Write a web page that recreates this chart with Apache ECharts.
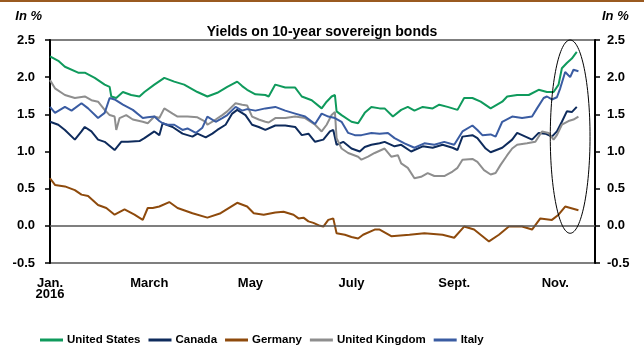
<!DOCTYPE html>
<html>
<head>
<meta charset="utf-8">
<script src="https://cdn.jsdelivr.net/npm/echarts@6/dist/echarts.min.js"></script>
<style>
  html, body { margin: 0; padding: 0; background: #fff; }
  #chart { width: 644px; height: 347px; }
</style>
</head>
<body>
<div id="chart"></div>
<script>
// x = day of year 2016 (0 = 1 Jan), y = yield in %
const monthDays = [0, 60, 121, 182, 244, 305];
const monthLabels = ['Jan.\n2016', 'March', 'May', 'July', 'Sept.', 'Nov.'];

const usYield = [[0,2.28],[5,2.22],[9,2.14],[17,2.06],[21,2.06],[27,1.99],[33,1.90],[36,1.87],[37,1.74],[40,1.72],[44,1.80],[49,1.76],[54,1.74],[57,1.80],[63,1.90],[69,1.99],[75,1.94],[81,1.90],[89,1.80],[95,1.74],[101,1.79],[107,1.87],[113,1.94],[116,1.88],[119,1.83],[124,1.77],[130,1.76],[132,1.74],[136,1.90],[142,1.86],[148,1.86],[152,1.74],[158,1.69],[164,1.58],[167,1.67],[170,1.74],[172,1.76],[173,1.54],[176,1.49],[182,1.40],[186,1.38],[190,1.52],[194,1.60],[199,1.58],[202,1.58],[207,1.47],[212,1.56],[216,1.60],[220,1.55],[225,1.60],[231,1.58],[235,1.63],[240,1.60],[246,1.56],[250,1.72],[255,1.72],[260,1.67],[266,1.58],[267,1.57],[273,1.67],[276,1.74],[282,1.76],[289,1.76],[295,1.83],[300,1.80],[304,1.80],[307,1.90],[309,2.12],[312,2.19],[315,2.25],[318,2.34]];

const canadaYield = [[0,1.40],[5,1.36],[9,1.29],[15,1.16],[19,1.27],[21,1.33],[25,1.27],[29,1.16],[33,1.13],[39,1.02],[43,1.13],[47,1.13],[54,1.14],[57,1.18],[63,1.27],[66,1.22],[68,1.38],[74,1.33],[80,1.24],[86,1.20],[89,1.24],[94,1.19],[98,1.24],[101,1.29],[106,1.36],[110,1.51],[113,1.56],[118,1.49],[122,1.36],[126,1.33],[130,1.29],[136,1.35],[142,1.35],[148,1.33],[152,1.22],[156,1.24],[160,1.13],[165,1.16],[169,1.27],[171,1.29],[173,1.09],[177,1.13],[182,1.04],[187,1.00],[190,1.06],[194,1.09],[199,1.11],[202,1.13],[208,1.07],[212,1.09],[218,1.00],[225,1.07],[231,1.05],[237,1.09],[243,1.05],[246,1.02],[249,1.20],[255,1.22],[258,1.18],[263,1.04],[266,0.99],[267,0.98],[273,1.05],[279,1.16],[282,1.25],[287,1.20],[291,1.16],[295,1.25],[299,1.24],[303,1.20],[306,1.27],[309,1.40],[312,1.54],[315,1.53],[318,1.60]];

const germanyYield = [[0,0.64],[3,0.55],[9,0.53],[15,0.48],[19,0.42],[23,0.40],[29,0.28],[34,0.24],[39,0.15],[45,0.22],[51,0.15],[56,0.08],[59,0.24],[62,0.24],[66,0.26],[72,0.32],[77,0.24],[86,0.17],[95,0.11],[103,0.17],[113,0.31],[119,0.26],[123,0.17],[129,0.15],[136,0.18],[141,0.19],[147,0.15],[150,0.10],[153,0.11],[156,0.06],[159,0.04],[163,0.00],[165,-0.01],[168,0.08],[171,0.10],[173,-0.10],[178,-0.12],[182,-0.15],[186,-0.17],[189,-0.12],[196,-0.05],[199,-0.05],[206,-0.14],[217,-0.12],[226,-0.10],[237,-0.12],[244,-0.16],[250,-0.01],[256,-0.05],[265,-0.21],[271,-0.12],[277,-0.01],[285,-0.01],[291,-0.05],[296,0.10],[303,0.08],[307,0.15],[311,0.26],[319,0.21]];

const ukYield = [[0,1.96],[3,1.85],[9,1.76],[15,1.72],[21,1.74],[25,1.69],[29,1.67],[33,1.56],[36,1.49],[39,1.47],[40,1.29],[42,1.45],[46,1.49],[50,1.43],[56,1.40],[59,1.38],[63,1.47],[66,1.45],[69,1.58],[74,1.51],[77,1.47],[83,1.47],[89,1.46],[94,1.40],[95,1.36],[100,1.43],[104,1.49],[107,1.54],[112,1.65],[116,1.63],[119,1.62],[122,1.47],[126,1.43],[130,1.40],[132,1.39],[136,1.45],[142,1.45],[148,1.47],[154,1.45],[160,1.36],[164,1.27],[167,1.36],[170,1.49],[172,1.53],[173,1.18],[176,1.04],[180,0.98],[186,0.93],[188,0.89],[192,0.93],[196,0.98],[202,1.04],[206,0.93],[210,0.95],[212,0.84],[216,0.78],[220,0.64],[224,0.66],[228,0.71],[232,0.67],[238,0.67],[243,0.73],[246,0.78],[249,0.89],[255,0.90],[258,0.86],[262,0.75],[266,0.69],[269,0.71],[272,0.82],[276,0.95],[279,1.04],[282,1.09],[288,1.11],[293,1.13],[297,1.27],[301,1.25],[304,1.16],[306,1.22],[309,1.36],[313,1.41],[316,1.43],[319,1.47]];

const italyYield = [[0,1.60],[3,1.52],[9,1.60],[13,1.55],[19,1.65],[23,1.58],[29,1.45],[33,1.52],[36,1.72],[39,1.70],[44,1.63],[50,1.56],[56,1.45],[59,1.46],[63,1.47],[66,1.41],[68,1.38],[71,1.36],[75,1.36],[80,1.29],[83,1.31],[88,1.25],[92,1.32],[95,1.47],[100,1.40],[104,1.45],[107,1.49],[112,1.60],[116,1.55],[119,1.57],[124,1.55],[130,1.58],[136,1.60],[142,1.55],[148,1.51],[154,1.47],[160,1.37],[164,1.51],[168,1.47],[172,1.45],[176,1.40],[180,1.25],[184,1.22],[188,1.22],[194,1.25],[199,1.24],[204,1.25],[208,1.18],[214,1.11],[220,1.05],[226,1.11],[232,1.09],[238,1.13],[244,1.09],[249,1.27],[255,1.35],[258,1.29],[261,1.22],[266,1.23],[269,1.20],[273,1.40],[279,1.47],[285,1.45],[291,1.47],[294,1.58],[298,1.72],[300,1.74],[303,1.70],[306,1.73],[308,1.85],[311,2.07],[314,2.00],[316,2.10],[319,2.08]];

// zone circled on the chart (days, %)
const circleDays = [302, 326];
const circleRange = [-0.1, 2.5];

const font = '"Liberation Sans", Arial, sans-serif';

const chart = echarts.init(document.getElementById('chart'), null, {renderer: 'canvas'});

function lineSeries(name, data, color) {
  return {
    name: name,
    type: 'line',
    data: data,
    showSymbol: false,
    symbol: 'none',
    smooth: false,
    lineStyle: {color: color, width: 2},
    itemStyle: {color: color}
  };
}

function yAxis(position, labelMargin, nameStyle) {
  return {
    type: 'value',
    position: position,
    min: -0.5,
    max: 2.5,
    interval: 0.5,
    splitLine: {show: false},
    axisLine: {show: true, lineStyle: {color: '#000', width: 2}},
    axisTick: {show: true, inside: false, length: 5, lineStyle: {color: '#000', width: 1.5}},
    axisLabel: {
      color: '#000', fontFamily: font, fontSize: 13, fontWeight: 'bold', margin: labelMargin,
      formatter: (v) => v.toFixed(1)
    },
    name: 'In %',
    nameLocation: 'end',
    nameGap: 17,
    nameTextStyle: Object.assign({fontFamily: font, fontSize: 13, fontWeight: 'bold', fontStyle: 'italic', color: '#000'}, nameStyle)
  };
}

const series = [
  lineSeries('United States', usYield, '#0f9a5c'),
  lineSeries('Canada', canadaYield, '#0e2b5c'),
  lineSeries('Germany', germanyYield, '#8e4a0c'),
  lineSeries('United Kingdom', ukYield, '#8e8e8e'),
  lineSeries('Italy', italyYield, '#3a5ca2')
];
// zero line
series[2].markLine = {
  silent: true,
  symbol: 'none',
  label: {show: false},
  lineStyle: {color: '#555', width: 1.5, type: 'solid'},
  data: [{yAxis: 0}]
};

chart.setOption({
  backgroundColor: '#fff',
  animation: false,
  title: {
    text: 'Yields on 10-year sovereign bonds',
    left: 'center',
    top: 20,
    textStyle: {fontFamily: font, fontSize: 14, fontWeight: 'bold', color: '#000'}
  },
  grid: {
    left: 50, right: 49, top: 40, bottom: 84,
    show: true, borderColor: '#555', borderWidth: 1.5, backgroundColor: 'transparent'
  },
  legend: {
    left: 40,
    top: 334,
    padding: 0,
    icon: 'rect',
    itemWidth: 23,
    itemHeight: 3,
    itemGap: 8,
    textStyle: {fontFamily: font, fontSize: 11.5, fontWeight: 'bold', color: '#000', padding: [0, 0, 0, -1]},
    data: ['United States', 'Canada', 'Germany', 'United Kingdom', 'Italy']
  },
  xAxis: {
    type: 'value',
    min: 0,
    max: 329,
    splitLine: {show: false},
    axisLine: {show: false},
    axisTick: {show: false},
    axisLabel: {
      customValues: monthDays,
      formatter: (v) => monthLabels[monthDays.indexOf(v)],
      color: '#000', fontFamily: font, fontSize: 13, fontWeight: 'bold',
      lineHeight: 11, margin: 15
    }
  },
  yAxis: [
    yAxis('left', 15, {align: 'right', padding: [0, 8, 0, 0]}),
    yAxis('right', 12, {align: 'left', padding: [0, 0, 0, 7]})
  ],
  series: series
});

// ellipse round the November jump
const p1 = chart.convertToPixel({xAxisIndex: 0, yAxisIndex: 0}, [circleDays[0], circleRange[1]]);
const p2 = chart.convertToPixel({xAxisIndex: 0, yAxisIndex: 0}, [circleDays[1], circleRange[0]]);
chart.setOption({
  graphic: [{
    type: 'ellipse',
    silent: true,
    z: 100,
    shape: {
      cx: (p1[0] + p2[0]) / 2,
      cy: (p1[1] + p2[1]) / 2,
      rx: Math.abs(p2[0] - p1[0]) / 2,
      ry: Math.abs(p2[1] - p1[1]) / 2
    },
    style: {fill: 'none', stroke: '#000', lineWidth: 1}
  }, {
    // brown rule across the top of the figure
    type: 'rect',
    silent: true,
    shape: {x: 0, y: 0, width: 644, height: 2},
    style: {fill: '#9a5a20'}
  }]
});
</script>
</body>
</html>
